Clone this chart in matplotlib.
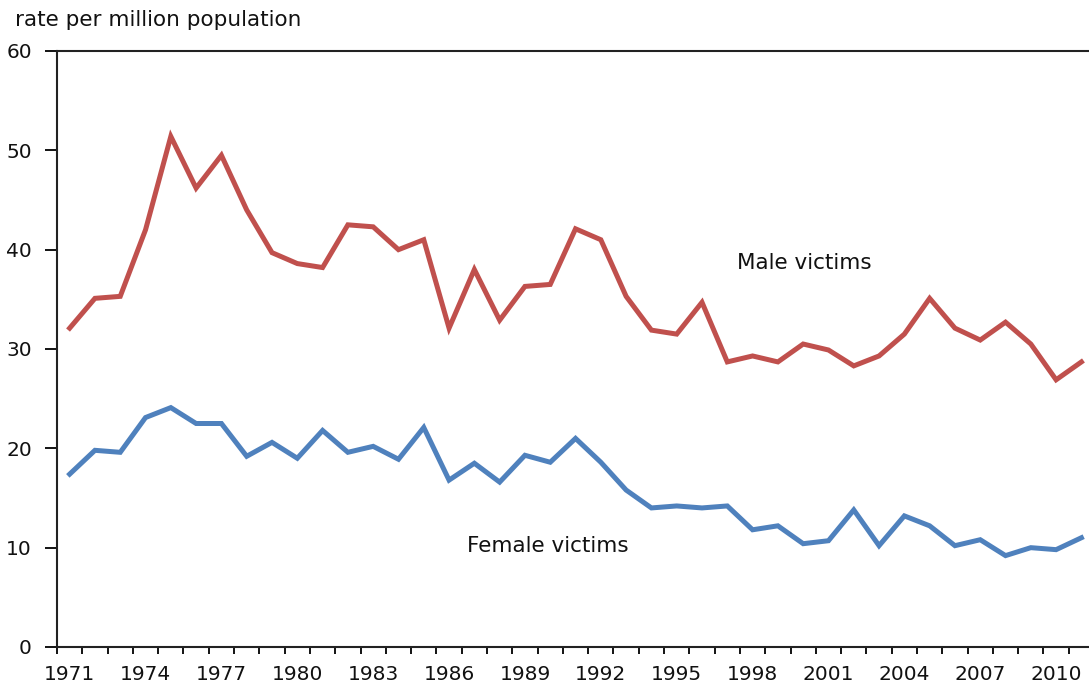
import numpy as np
import matplotlib
matplotlib.use('Agg')
import matplotlib.pyplot as plt
from matplotlib.ticker import MultipleLocator

years = list(range(1971, 2012))
male = [32.1, 35.1, 35.3, 42.0, 51.4, 46.2, 49.5, 44.0, 39.7, 38.6,
        38.2, 42.5, 42.3, 40.0, 41.0, 32.1, 38.0, 32.9, 36.3, 36.5,
        42.1, 41.0, 35.3, 31.9, 31.5, 34.7, 28.7, 29.3, 28.7, 30.5,
        29.9, 28.3, 29.3, 31.5, 35.1, 32.1, 30.9, 32.7, 30.5, 26.9,
        28.7]
female = [17.4, 19.8, 19.6, 23.1, 24.1, 22.5, 22.5, 19.2, 20.6, 19.0,
          21.8, 19.6, 20.2, 18.9, 22.1, 16.8, 18.5, 16.6, 19.3, 18.6,
          21.0, 18.6, 15.8, 14.0, 14.2, 14.0, 14.2, 11.8, 12.2, 10.4,
          10.7, 13.8, 10.2, 13.2, 12.2, 10.2, 10.8, 9.2, 10.0, 9.8,
          11.0]
tick_years = list(range(1971, 2012, 3))

plt.rcParams['font.family'] = 'DejaVu Sans'
fs = 14.5
fs_text = 15.5
fig = plt.figure(figsize=(10.89, 6.85), dpi=100)
ax = fig.add_axes([57 / 1089, 38 / 685, 1 - 57 / 1089, 596 / 685])

ax.plot(years, male, color='#C0504D', lw=3.6, solid_joinstyle='miter')
ax.plot(years, female, color='#4F81BD', lw=3.6, solid_joinstyle='miter')

ax.set_xlim(1970.5, 2011.3)
ax.set_ylim(0, 60)
ax.set_yticks(range(0, 61, 10))
ax.set_xticks(tick_years)
ax.xaxis.set_minor_locator(MultipleLocator(1, offset=0.5))
ax.tick_params(axis='x', which='major', length=0, pad=13, labelsize=fs,
               labelcolor='#111111')
ax.tick_params(axis='x', which='minor', length=5, width=1.3, direction='out')
ax.tick_params(axis='y', length=9, width=1.3, direction='out', pad=9,
               labelsize=fs, labelcolor='#111111')

for s in ['left', 'bottom', 'top']:
    ax.spines[s].set_linewidth(1.5)
    ax.spines[s].set_color('#222222')
ax.spines['right'].set_visible(False)

ax.text(1997.4, 38.7, 'Male victims', fontsize=fs_text, va='center',
        ha='left', color='#111111')
ax.text(1986.7, 10.2, 'Female victims', fontsize=fs_text, va='center',
        ha='left', color='#111111')
fig.text(15 / 1089, 1 - 20 / 685, 'rate per million population',
         fontsize=fs_text, va='center', ha='left', color='#111111')

plt.savefig('out.png', dpi=100)
plt.close()
